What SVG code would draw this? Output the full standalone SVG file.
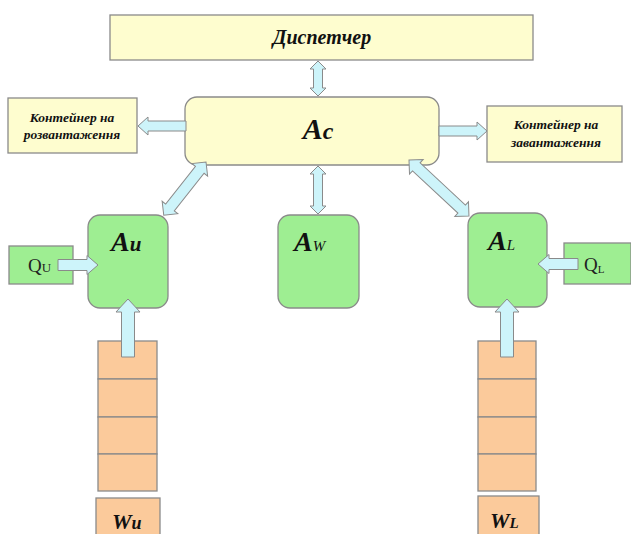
<svg xmlns="http://www.w3.org/2000/svg" width="631" height="534" viewBox="0 0 631 534">
  <style>
    .box { stroke: #8a8a8a; stroke-width: 1.3; }
    .yel { fill: #fefdcf; }
    .grn { fill: #9eee92; }
    .org { fill: #fbca9b; }
    .arw { fill: #cdf4fa; stroke: #8a8a8a; stroke-width: 1; stroke-linejoin: miter; }
    .lbl { font-family: "Liberation Serif", "Times New Roman", serif; font-weight: bold; font-style: italic; fill: #111; }
    .q { font-family: "Liberation Serif", "Times New Roman", serif; fill: #222; }
  </style>
  <defs>
    <!-- block arrows drawn along +x, one shape per length -->
    <path id="dbl35" d="M0,0 L8,-8 L8,-4.5 L27,-4.5 L27,-8 L35,0 L27,8 L27,4.5 L8,4.5 L8,8 Z"/>
    <path id="dbl48" d="M0,0 L8,-8 L8,-4.5 L40,-4.5 L40,-8 L48,0 L40,8 L40,4.5 L8,4.5 L8,8 Z"/>
    <path id="dbl68" d="M0,0 L10,-10 L10,-5.5 L58,-5.5 L58,-10 L68,0 L58,10 L58,5.5 L10,5.5 L10,10 Z"/>
    <path id="dbl82" d="M0,0 L10,-10 L10,-5.5 L72,-5.5 L72,-10 L82,0 L72,10 L72,5.5 L10,5.5 L10,10 Z"/>
    <path id="one48" d="M0,-5 L38,-5 L38,-9 L48,0 L38,9 L38,5 L0,5 Z"/>
    <path id="one40" d="M0,-5.5 L29,-5.5 L29,-9.5 L40,0 L29,9.5 L29,5.5 L0,5.5 Z"/>
    <path id="one58" d="M0,-6.5 L45,-6.5 L45,-12 L58,0 L45,12 L45,6.5 L0,6.5 Z"/>
  </defs>

  <g id="dispatcher">
    <rect class="box yel" x="110" y="15" width="423" height="45"/>
    <text class="lbl" x="322" y="44" font-size="20" text-anchor="middle">Диспетчер</text>
  </g>

  <g id="ac">
    <rect class="box yel" x="185" y="97" width="254" height="68" rx="12"/>
    <text class="lbl" x="318" y="139" text-anchor="middle"><tspan font-size="30">A</tspan><tspan font-size="24">c</tspan></text>
  </g>

  <g id="unload-container">
    <rect class="box yel" x="8" y="98" width="129" height="55"/>
    <text class="lbl" x="72" y="122" font-size="13.5" text-anchor="middle">Контейнер на</text>
    <text class="lbl" x="72" y="139" font-size="13.5" text-anchor="middle">розвантаження</text>
  </g>

  <g id="load-container">
    <rect class="box yel" x="487" y="106" width="135" height="56"/>
    <text class="lbl" x="556" y="129" font-size="13.5" text-anchor="middle">Контейнер на</text>
    <text class="lbl" x="556" y="147" font-size="13.5" text-anchor="middle">завантаження</text>
  </g>

  <g id="au">
    <rect class="box grn" x="88" y="215" width="80" height="93" rx="12"/>
    <text class="lbl" x="111" y="251"><tspan font-size="28">A</tspan><tspan font-size="21">u</tspan></text>
  </g>

  <g id="aw">
    <rect class="box grn" x="278" y="215" width="81" height="93" rx="12"/>
    <text class="lbl" x="294" y="251"><tspan font-size="28">A</tspan><tspan font-size="15" font-weight="normal">W</tspan></text>
  </g>

  <g id="al">
    <rect class="box grn" x="468" y="213" width="79" height="94" rx="12"/>
    <text class="lbl" x="488" y="250"><tspan font-size="28">A</tspan><tspan font-size="15" font-weight="normal">L</tspan></text>
  </g>

  <g id="qu">
    <rect class="box grn" x="9" y="246" width="64" height="38"/>
    <text class="q" x="28" y="272"><tspan font-size="19">Q</tspan><tspan font-size="13">U</tspan></text>
  </g>

  <g id="ql">
    <rect class="box grn" x="564" y="243" width="67" height="41"/>
    <text class="q" x="584" y="271"><tspan font-size="19">Q</tspan><tspan font-size="11" dy="2">L</tspan></text>
  </g>

  <g id="wu-stack">
    <rect class="box org" x="98" y="341" width="59" height="38"/>
    <rect class="box org" x="98" y="379" width="59" height="38"/>
    <rect class="box org" x="98" y="417" width="59" height="37"/>
    <rect class="box org" x="98" y="454" width="59" height="37"/>
  </g>

  <g id="wl-stack">
    <rect class="box org" x="478" y="341" width="58" height="38"/>
    <rect class="box org" x="478" y="379" width="58" height="38"/>
    <rect class="box org" x="478" y="417" width="58" height="37"/>
    <rect class="box org" x="478" y="454" width="58" height="37"/>
  </g>

  <g id="wu">
    <rect class="box org" x="96" y="498" width="64" height="44"/>
    <text class="lbl" x="112" y="529"><tspan font-size="22">W</tspan><tspan font-size="18">u</tspan></text>
  </g>

  <g id="wl">
    <rect class="box org" x="478" y="496" width="61" height="46"/>
    <text class="lbl" x="490" y="528"><tspan font-size="22">W</tspan><tspan font-size="15">L</tspan></text>
  </g>

  <g id="connectors">
    <use class="arw" href="#dbl35" transform="translate(318,61) rotate(90)"/>
    <use class="arw" href="#dbl48" transform="translate(318,166) rotate(90)"/>
    <use class="arw" href="#dbl68" transform="translate(206,162) rotate(128.4)"/>
    <use class="arw" href="#dbl82" transform="translate(409,160) rotate(43)"/>
    <use class="arw" href="#one48" transform="translate(186,126) rotate(180)"/>
    <use class="arw" href="#one48" transform="translate(439,131)"/>
    <use class="arw" href="#one40" transform="translate(58,265)"/>
    <use class="arw" href="#one40" transform="translate(578,264) rotate(180)"/>
    <use class="arw" href="#one58" transform="translate(128,357) rotate(-90)"/>
    <use class="arw" href="#one58" transform="translate(507,357) rotate(-90)"/>
  </g>
</svg>
